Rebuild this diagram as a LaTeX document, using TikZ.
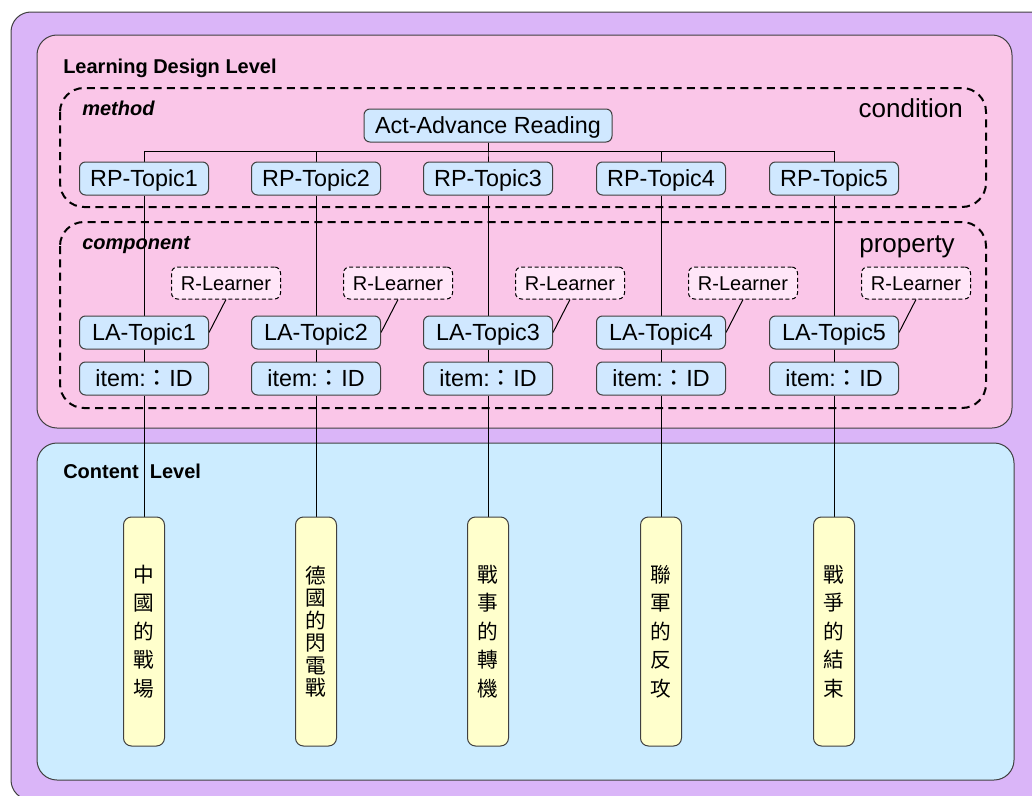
\documentclass[tikz,border=0pt]{standalone}
\usepackage{fontspec}
\setmainfont{Liberation Sans}
\newfontfamily\cjkfont{Noto Sans CJK TC}

\pgfdeclarelayer{back}
\pgfdeclarelayer{wires}
\pgfsetlayers{back,wires,main}

\definecolor{outerpurple}{RGB}{218,181,248}
\definecolor{designpink}{RGB}{250,198,232}
\definecolor{contentblue}{RGB}{204,236,255}
\definecolor{boxblue}{RGB}{208,232,255}
\definecolor{learnerpink}{RGB}{255,230,248}
\definecolor{topicyellow}{RGB}{255,255,204}
\definecolor{edgegray}{RGB}{64,64,64}

\tikzset{
  panel/.style={draw=edgegray, line width=0.75pt, rounded corners=15pt},
  zone/.style={draw=black, line width=1.5pt, dash pattern=on 6pt off 4pt, rounded corners=18pt},
  ldbox/.style={draw=edgegray, fill=boxblue, rounded corners=4.5pt, line width=0.75pt,
    minimum width=96.75pt, minimum height=24.75pt, inner sep=0pt,
    text height=12.5pt, text depth=0pt,
    font=\fontsize{17.5pt}{20pt}\selectfont},
  learner/.style={draw=black, dash pattern=on 3pt off 2pt, fill=learnerpink,
    rounded corners=4.5pt, line width=0.75pt, minimum width=81.75pt,
    minimum height=24pt, inner sep=0pt, text height=10.7pt, text depth=0pt,
    font=\fontsize{15pt}{18pt}\selectfont},
  scroll/.style={draw=edgegray, fill=topicyellow, rounded corners=6pt, line width=0.75pt,
    minimum width=30.75pt, minimum height=171.75pt, inner sep=0pt, align=center},
  wire/.style={draw=black, line width=0.75pt},
  levellabel/.style={font=\bfseries\fontsize{15pt}{18pt}\selectfont, inner sep=0pt},
  zonelabel/.style={font=\bfseries\itshape\fontsize{15pt}{18pt}\selectfont, inner sep=0pt},
  zonetag/.style={font=\fontsize{19.5pt}{22pt}\selectfont, inner sep=0pt},
}

\begin{document}
\begin{tikzpicture}[x=0.75pt, y=-0.75pt]
\useasboundingbox (0,0) rectangle (1032,796);

% level panels and dashed zones
\begin{pgfonlayer}{back}
  \begin{scope}
    \clip (0,0) rectangle (1032,796);
    \path[panel, fill=outerpurple] (11,12) rectangle (1060,800);
  \end{scope}
  \path[panel, fill=designpink] (37,35) rectangle (1012,428);
  \path[panel, fill=contentblue] (37,443) rectangle (1014,780);
  \draw[zone] (60,88) rectangle (986,207);
  \draw[zone] (60,222) rectangle (986,408);
\end{pgfonlayer}

% labels
\node[levellabel, anchor=base west] (ldl) at (63,73) {Learning Design Level};
\node[levellabel, anchor=base west] (cl) at (63,478) {Content\ \ Level};
\node[zonelabel, anchor=base west] (meth) at (82,115) {method};
\node[zonelabel, anchor=base west] (comp) at (82,249) {component};
\node[zonetag, anchor=base east] (cond) at (963,117) {condition};
\node[zonetag, anchor=base east] (prop) at (955,252) {property};

% activity
\node[ldbox, minimum width=186pt] (act) at (488,125.5) {Act-Advance Reading};

% topic columns
\foreach \i/\x/\sk/\txt in {
  1/144/21.4/{中\\國\\的\\戰\\場},
  2/316/16.9/{德\\國\\的\\閃\\電\\戰},
  3/488/21.4/{戰\\事\\的\\轉\\機},
  4/661/21.4/{聯\\軍\\的\\反\\攻},
  5/834/21.4/{戰\\爭\\的\\結\\束}} {
  \node[ldbox] (rp\i) at (\x,178.5) {RP-Topic\i};
  \node[learner] (rl\i) at (\x+82,283) {R-Learner};
  \node[ldbox] (la\i) at (\x,332.5) {LA-Topic\i};
  \node[ldbox] (id\i) at (\x,378.5) {item:{\cjkfont ：}ID};
  \node[scroll, font=\cjkfont\fontsize{15.5pt}{\sk pt}\selectfont] (sc\i) at (\x,631.5) {\txt};
}

% connectors
\begin{pgfonlayer}{wires}
  \foreach \i in {1,...,5} {
    \draw[wire] (act.south) -- ++(0,9) -| (rp\i.north);
    \draw[wire] (rp\i) -- (la\i);
    \draw[wire] (la\i) -- (id\i);
    \draw[wire] (id\i) -- (sc\i);
    \draw[wire] (rl\i.south) -- (la\i.east);
  }
\end{pgfonlayer}
\end{tikzpicture}
\end{document}
